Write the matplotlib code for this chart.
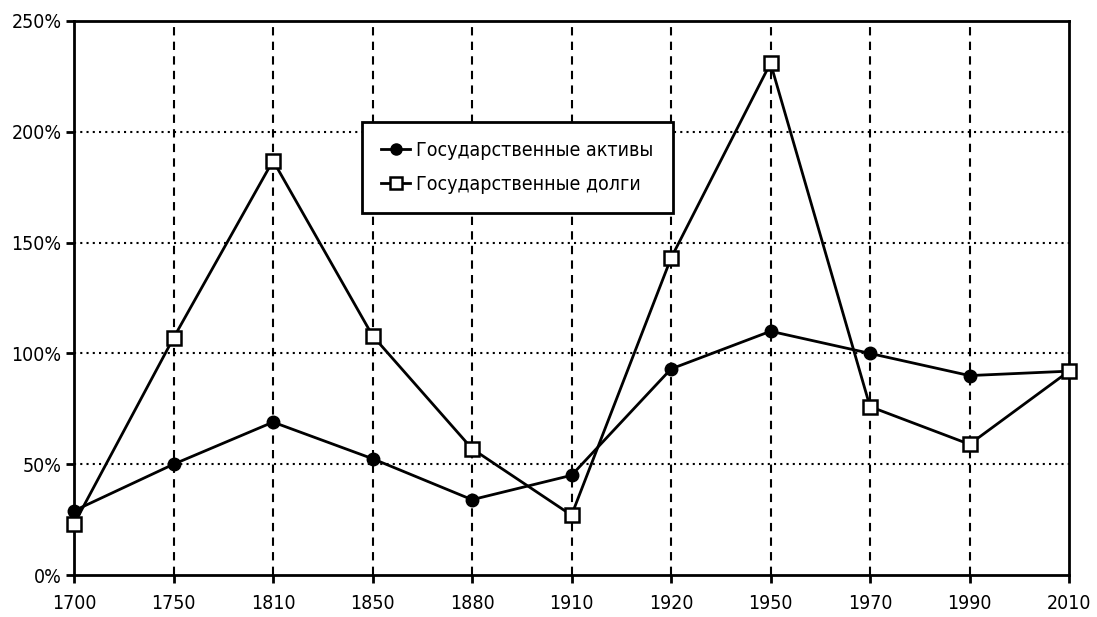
import matplotlib
matplotlib.use("Agg")
import matplotlib.pyplot as plt
from matplotlib.ticker import FuncFormatter

years = ["1700", "1750", "1810", "1850", "1880", "1910", "1920", "1950", "1970", "1990", "2010"]
assets = [29, 50, 69, 52.5, 34, 45, 93, 110, 100, 90, 92]
debts = [23, 107, 187, 108, 57, 27, 143, 231, 76, 59, 92]
label_assets = "Государственные активы"
label_debts = "Государственные долги"
yticks = [0, 50, 100, 150, 200, 250]

plt.rcParams['font.family'] = ['DejaVu Sans']
plt.rcParams['font.stretch'] = 'condensed'

fig = plt.figure(figsize=(10.97, 6.17), dpi=100)
ax = fig.add_axes([0.0675, 0.068, 0.907, 0.898])

x = list(range(len(years)))
ax.plot(x, assets, color='black', lw=2, marker='o', ms=9, mfc='black', mec='black',
        label=label_assets, zorder=3, clip_on=False)
ax.plot(x, debts, color='black', lw=2, marker='s', ms=10, mfc='white', mec='black', mew=1.8,
        label=label_debts, zorder=3, clip_on=False)

ax.set_xlim(0, len(years) - 1)
ax.set_ylim(0, 250)
ax.set_xticks(x)
ax.set_xticklabels(years)
ax.set_yticks(yticks)
ax.yaxis.set_major_formatter(FuncFormatter(lambda v, p: f"{int(v)}%"))

for xi in x[1:-1]:
    ax.axvline(xi, color='black', lw=1.5, ls=(0, (4, 3)), zorder=1)
for yv in yticks[1:-1]:
    ax.axhline(yv, color='black', lw=1.5, ls=(0, (1, 2)), zorder=1)

for s in ax.spines.values():
    s.set_linewidth(2)
ax.tick_params(direction='out', length=6, width=2, labelsize=14, pad=8)
ax.tick_params(axis='y', pad=3)

leg = ax.legend(loc='upper left', bbox_to_anchor=(0.289, 0.818), frameon=True, fancybox=False,
                edgecolor='black', framealpha=1, fontsize=14, handlelength=1.5, handletextpad=0.3,
                borderpad=1.0, labelspacing=0.75, borderaxespad=0)
leg.get_frame().set_linewidth(2)
leg.set_zorder(5)
for h in leg.legend_handles:
    h.set_markersize(8)

fig.savefig("out.png", dpi=100, facecolor='white')
